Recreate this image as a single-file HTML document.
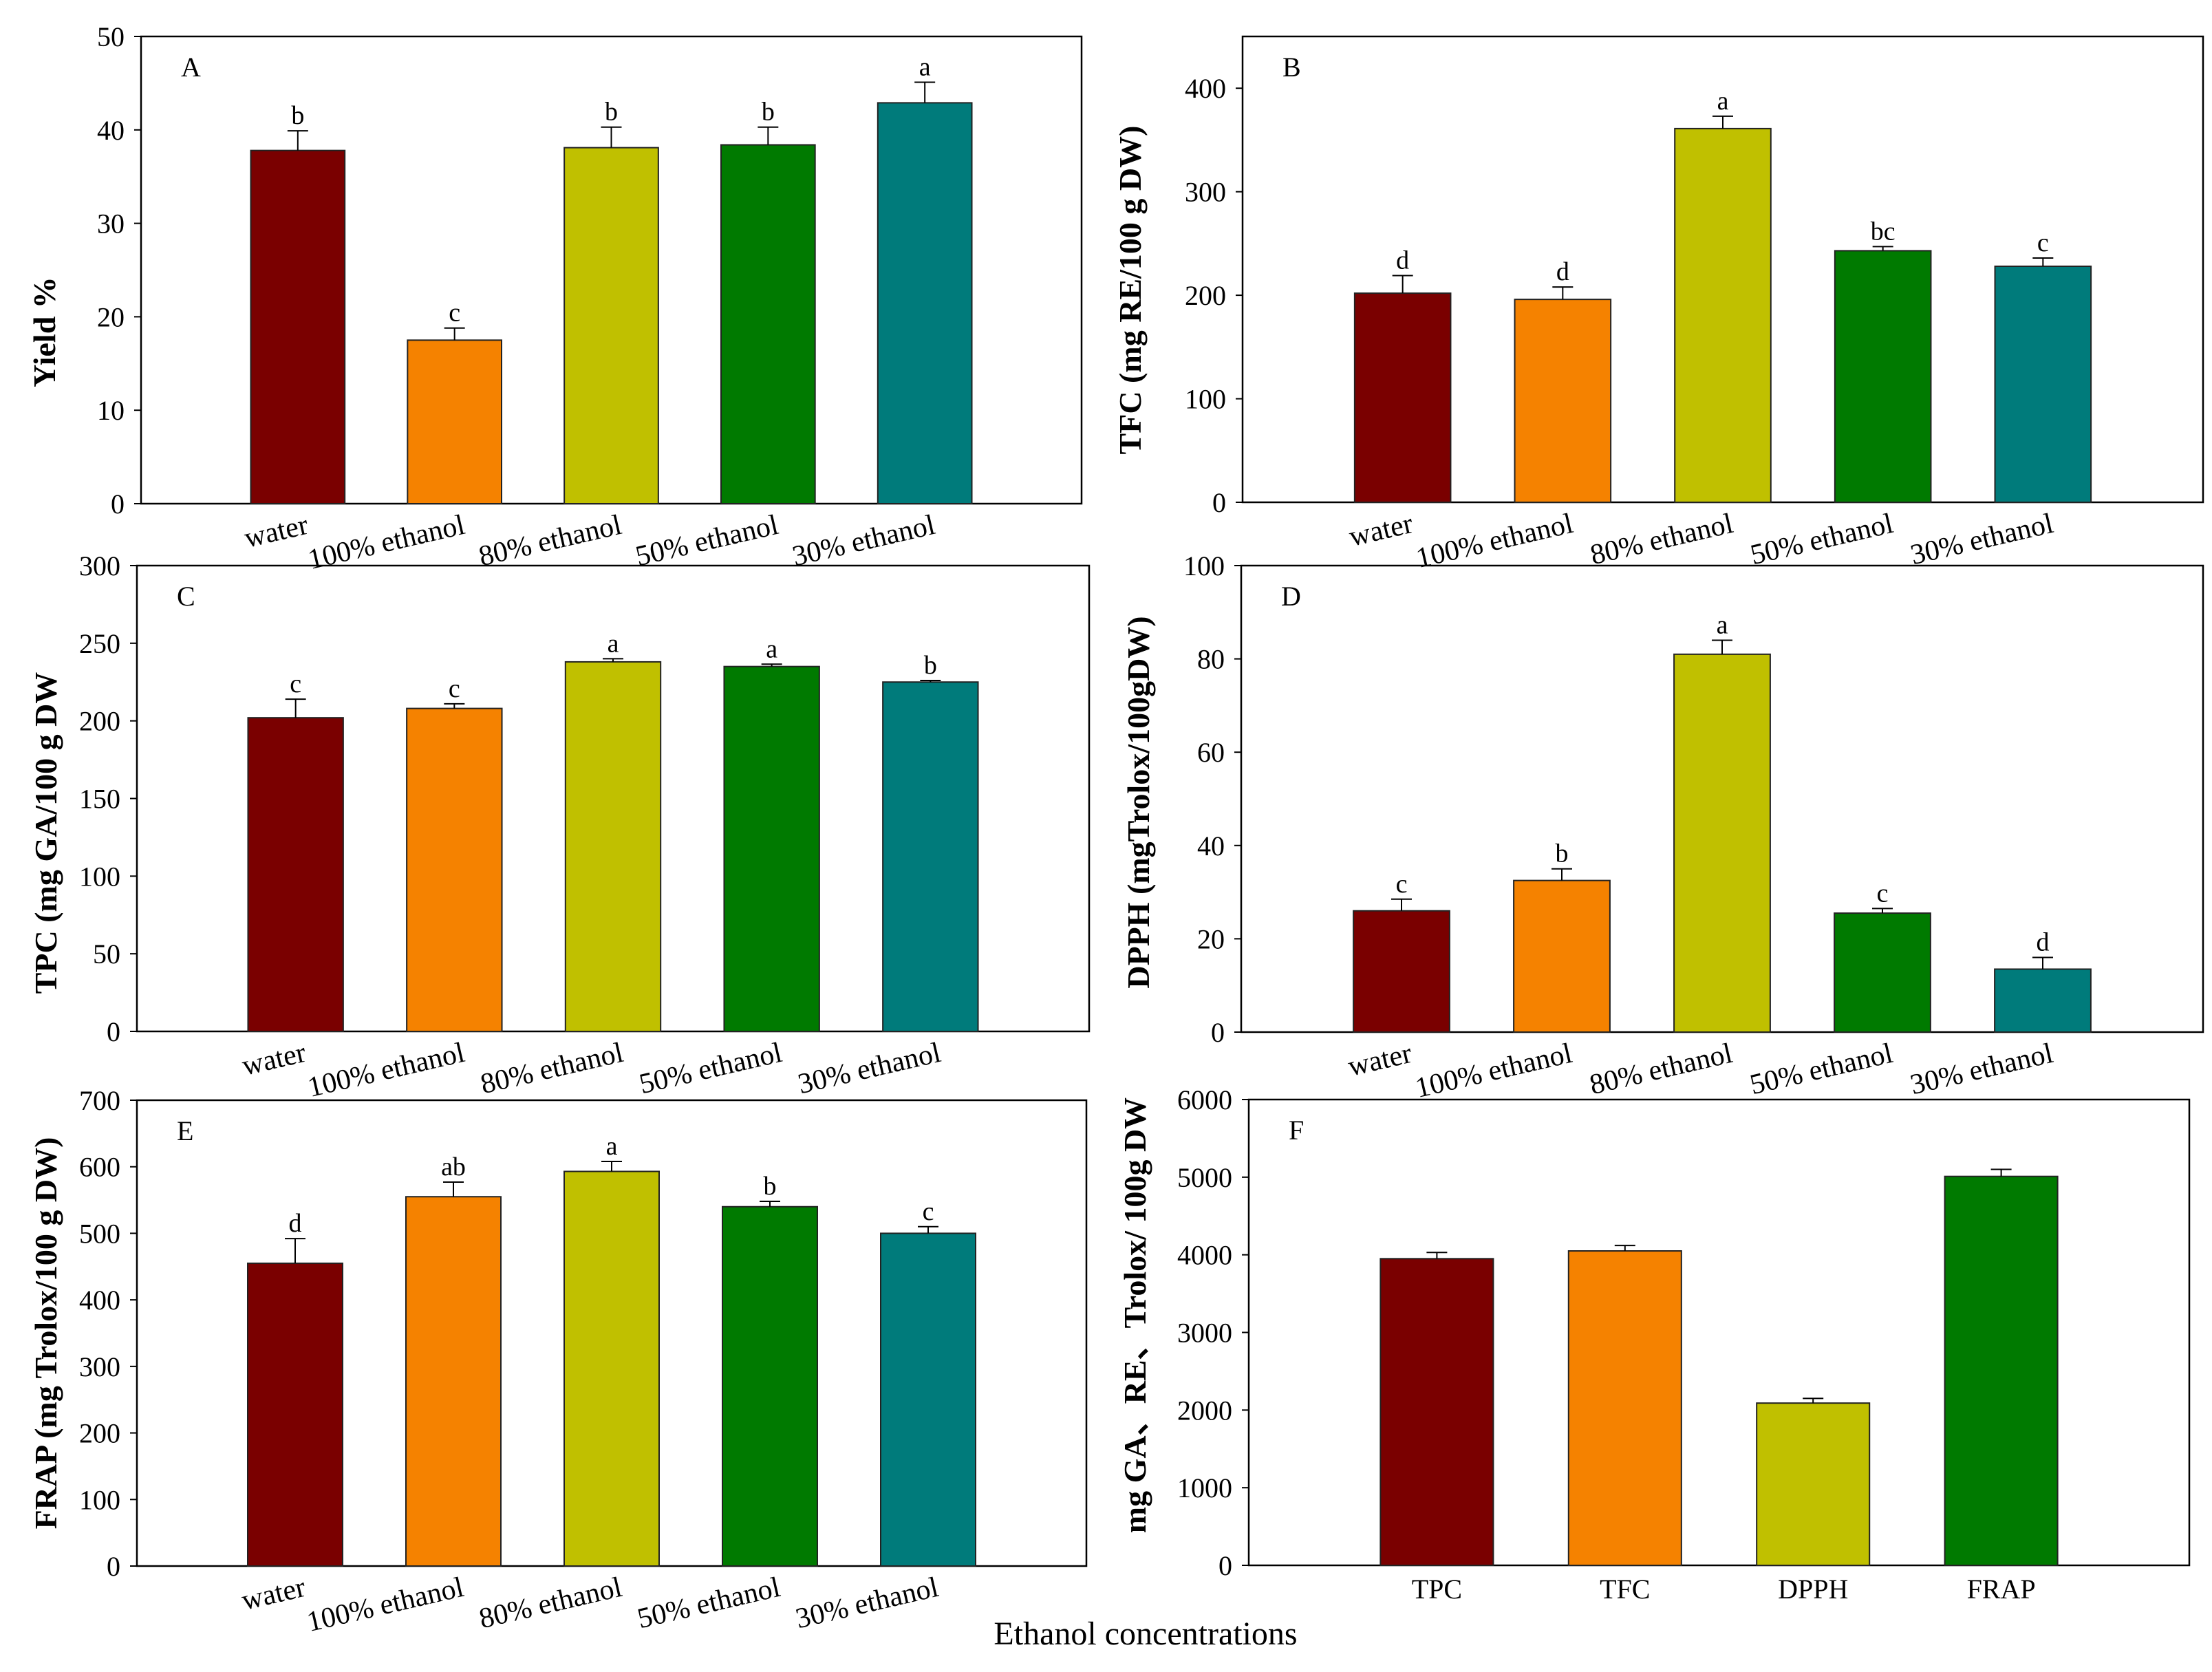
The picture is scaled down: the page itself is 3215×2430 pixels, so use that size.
<!DOCTYPE html>
<html><head><meta charset="utf-8">
<style>
html,body{margin:0;padding:0;background:#fff;}
svg{display:block;font-family:"Liberation Serif",serif;}
</style></head>
<body>
<svg id="fig" width="3215" height="2430" viewBox="0 0 3215 2430" xmlns="http://www.w3.org/2000/svg">
<text x="1665" y="2390" font-size="48" text-anchor="middle">Ethanol concentrations</text>
</svg>
<script>
const ethCats = ["water","100% ethanol","80% ethanol","50% ethanol","30% ethanol"];
const fCats = ["TPC","TFC","DPPH","FRAP"];
const colors5 = ["#7a0000","#f58200","#c0c000","#007a00","#007b7b"];

const yieldVals = [37.8,17.5,38.1,38.4,42.9];
const yieldErr = [2.1,1.3,2.2,1.9,2.2];
const yieldLetters = ["b","c","b","b","a"];
const yieldTicks = [0,10,20,30,40,50];

const tfcVals = [202,196,361,243,228];
const tfcErr = [17,12,12,4,8];
const tfcLetters = ["d","d","a","bc","c"];
const tfcTicks = [0,100,200,300,400];

const tpcVals = [202,208,238,235,225];
const tpcErr = [12,3,2,1.5,1];
const tpcLetters = ["c","c","a","a","b"];
const tpcTicks = [0,50,100,150,200,250,300];

const dpphVals = [26,32.5,81,25.5,13.5];
const dpphErr = [2.5,2.5,3,1,2.5];
const dpphLetters = ["c","b","a","c","d"];
const dpphTicks = [0,20,40,60,80,100];

const frapVals = [455,555,593,540,500];
const frapErr = [37,22,15,8,10];
const frapLetters = ["d","ab","a","b","c"];
const frapTicks = [0,100,200,300,400,500,600,700];

const fVals = [3950,4050,2090,5010];
const fErr = [80,70,60,90];
const fTicks = [0,1000,2000,3000,4000,5000,6000];

const svg = document.getElementById('fig');
const NS = "http://www.w3.org/2000/svg";
function mk(tag, attrs, parent){
  const e = document.createElementNS(NS, tag);
  for (const k in attrs) e.setAttribute(k, attrs[k]);
  (parent||svg).appendChild(e);
  return e;
}

function panel(o){
  const g = mk('g', {});
  
  
  const {L,R,T,B,max,cats,vals,errs,letters,ticks} = o;
  const W = R - L;
  const n = cats.length;
  const slot = W / (n + 1);
  const bw = slot * 0.6;
  const y = v => B - (v / max) * (B - T);
  const x = i => L + (i + 1) * slot;
  const fr = mk('rect', {x:L, y:T, width:W, height:B-T, fill:'none', stroke:'#000', 'stroke-width':2.5}, g);
  
  
  ticks.forEach(t => {
    const ln = mk('line', {x1:L-10, x2:L, y1:y(t), y2:y(t), stroke:'#000', 'stroke-width':2}, g);
    
    
    const tx = mk('text', {x:L-24, y:y(t)+14, 'font-size':40, 'text-anchor':'end'}, g);
    
    
    tx.textContent = t;
  });
  vals.forEach((v, i) => {
    const cx = x(i);
    const r = mk('rect', {x:cx-bw/2, y:y(v), width:bw, height:B-y(v), fill:o.colors[i], stroke:'#222', 'stroke-width':2}, g);
    
    
    const top = y(v + errs[i]);
    const e1 = mk('line', {x1:cx, x2:cx, y1:y(v), y2:top, stroke:'#000', 'stroke-width':2}, g);
    
    
    const e2 = mk('line', {x1:cx-15, x2:cx+15, y1:top, y2:top, stroke:'#000', 'stroke-width':2}, g);
    
    
    if (letters) {
      const lt = mk('text', {x:cx, y:top-10, 'font-size':38, 'text-anchor':'middle'}, g);
      
      
      lt.textContent = letters[i];
    }
    let xl;
    if (o.rotate) {
      xl = mk('text', {x:cx+17, y:B+43, 'font-size':42, 'text-anchor':'end', transform:`rotate(-13 ${cx+17} ${B+43})`}, g);
    } else {
      xl = mk('text', {x:cx, y:B+48, 'font-size':40, 'text-anchor':'middle'}, g);
    }
    
    
    xl.textContent = cats[i];
  });
  const pl = mk('text', {x:L+58, y:T+58, 'font-size':40}, g);
  
  
  pl.textContent = o.id;
  const cy = (T + B) / 2 + o.dy;
  const yt = mk('text', {x:o.tx, y:cy, 'font-size':46, 'font-weight':'bold', 'text-anchor':'middle', transform:`rotate(-90 ${o.tx} ${cy})`}, g);
  
  
  yt.textContent = o.title;
}

panel({id:'A', L:205, R:1572, T:53, B:732, max:50, cats:ethCats, vals:yieldVals, errs:yieldErr, letters:yieldLetters, ticks:yieldTicks, colors:colors5, rotate:true, title:'Yield %', tx:80, dy:90});
panel({id:'B', L:1806, R:3202, T:53, B:730, max:450, cats:ethCats, vals:tfcVals, errs:tfcErr, letters:tfcLetters, ticks:tfcTicks, colors:colors5, rotate:true, title:'TFC (mg RE/100 g DW)', tx:1658, dy:30});
panel({id:'C', L:199, R:1583, T:822, B:1499, max:300, cats:ethCats, vals:tpcVals, errs:tpcErr, letters:tpcLetters, ticks:tpcTicks, colors:colors5, rotate:true, title:'TPC (mg GA/100 g DW', tx:82, dy:50});
panel({id:'D', L:1804, R:3202, T:822, B:1500, max:100, cats:ethCats, vals:dpphVals, errs:dpphErr, letters:dpphLetters, ticks:dpphTicks, colors:colors5, rotate:true, title:'DPPH (mgTrolox/100gDW)', tx:1670, dy:5});
panel({id:'E', L:199, R:1579, T:1599, B:2276, max:700, cats:ethCats, vals:frapVals, errs:frapErr, letters:frapLetters, ticks:frapTicks, colors:colors5, rotate:true, title:'FRAP (mg Trolox/100 g DW)', tx:82, dy:0});
panel({id:'F', L:1815, R:3182, T:1598, B:2275, max:6000, cats:fCats, vals:fVals, errs:fErr, letters:null, ticks:fTicks, colors:colors5, rotate:false, title:'mg GA、RE、Trolox/ 100g DW', tx:1665, dy:-25});
</script>
</body></html>
